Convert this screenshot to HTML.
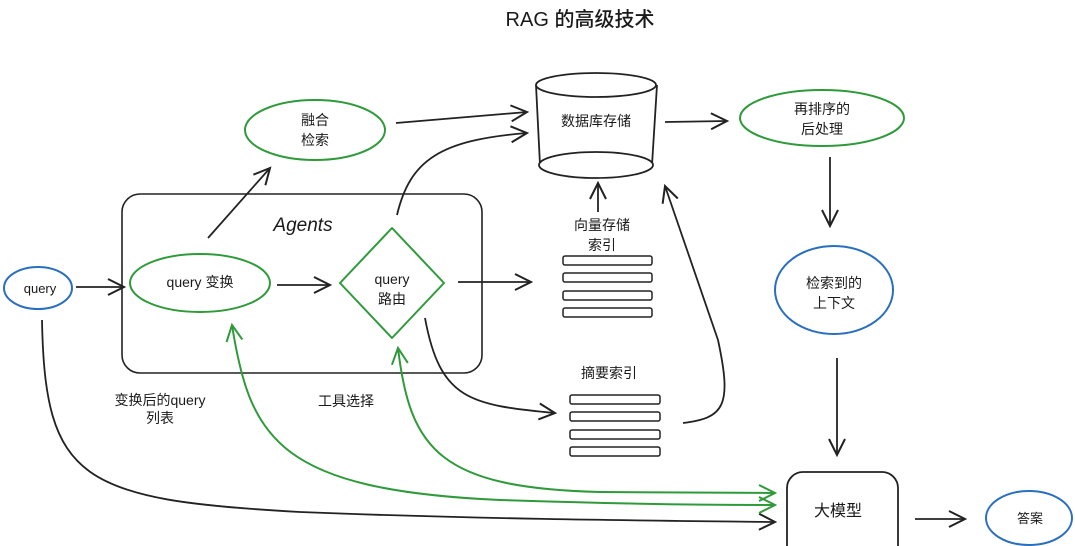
<!DOCTYPE html>
<html><head><meta charset="utf-8">
<style>
html,body{margin:0;padding:0;background:#fff;}
svg{display:block;}
text{font-family:"Liberation Sans","Noto Sans CJK SC",sans-serif;fill:#1a1a1a;}
</style></head>
<body>
<svg width="1075" height="546" viewBox="0 0 1075 546" xmlns="http://www.w3.org/2000/svg">
<defs>
<marker id="a" viewBox="0 0 20 20" refX="18" refY="10" markerWidth="20" markerHeight="20" markerUnits="userSpaceOnUse" orient="auto-start-reverse">
<path d="M2,2 L18,10 L2,18" fill="none" stroke="#222" stroke-width="2"/></marker>
<marker id="g" viewBox="0 0 20 20" refX="18" refY="10" markerWidth="20" markerHeight="20" markerUnits="userSpaceOnUse" orient="auto-start-reverse">
<path d="M2,2 L18,10 L2,18" fill="none" stroke="#2e9a3a" stroke-width="2"/></marker>
</defs>
<text x="580" y="26" font-size="20" text-anchor="middle" font-weight="500">RAG 的高级技术</text>

<rect x="122" y="194" width="360" height="179" rx="18" fill="none" stroke="#222" stroke-width="1.6"/>
<text x="303" y="231" font-size="19" font-style="italic" text-anchor="middle" font-family="Liberation Serif, serif">Agents</text>

<ellipse cx="315" cy="130" rx="70" ry="30" fill="none" stroke="#2e9a3a" stroke-width="2"/>
<text x="315" y="125" font-size="14" text-anchor="middle">融合</text>
<text x="315" y="145" font-size="14" text-anchor="middle">检索</text>

<ellipse cx="38" cy="288" rx="34" ry="21" fill="none" stroke="#2a6fbf" stroke-width="2"/>
<text x="40" y="293" font-size="13" text-anchor="middle">query</text>

<ellipse cx="200" cy="283" rx="70" ry="29" fill="none" stroke="#2e9a3a" stroke-width="2"/>
<text x="200" y="287" font-size="14" text-anchor="middle">query 变换</text>

<path d="M392,228 L444,283 L392,338 L340,283 Z" fill="none" stroke="#2e9a3a" stroke-width="2" stroke-linejoin="round"/>
<text x="392" y="284" font-size="14" text-anchor="middle">query</text>
<text x="392" y="304" font-size="14" text-anchor="middle">路由</text>

<path d="M536,85 L540,165 M657,85 L652,165" stroke="#222" stroke-width="1.8" fill="none"/>
<ellipse cx="596" cy="85" rx="60" ry="12" fill="none" stroke="#222" stroke-width="1.8"/>
<ellipse cx="596" cy="165" rx="57" ry="13" fill="#fff" stroke="#222" stroke-width="1.8"/>
<text x="596" y="126" font-size="14" text-anchor="middle">数据库存储</text>

<ellipse cx="822" cy="118" rx="82" ry="28" fill="none" stroke="#2e9a3a" stroke-width="2"/>
<text x="822" y="114" font-size="14" text-anchor="middle">再排序的</text>
<text x="822" y="134" font-size="14" text-anchor="middle">后处理</text>

<ellipse cx="834" cy="290" rx="59" ry="44" fill="none" stroke="#2a6fbf" stroke-width="2"/>
<text x="834" y="288" font-size="14" text-anchor="middle">检索到的</text>
<text x="834" y="308" font-size="14" text-anchor="middle">上下文</text>

<rect x="787" y="472" width="111" height="90" rx="16" fill="none" stroke="#222" stroke-width="1.8"/>
<text x="838" y="516" font-size="16" text-anchor="middle">大模型</text>

<ellipse cx="1029" cy="518" rx="43" ry="27" fill="none" stroke="#2a6fbf" stroke-width="2"/>
<text x="1030" y="523" font-size="13" text-anchor="middle">答案</text>

<text x="602" y="230" font-size="14" text-anchor="middle">向量存储</text>
<text x="602" y="250" font-size="14" text-anchor="middle">索引</text>
<g fill="none" stroke="#222" stroke-width="1.5">
<rect x="563" y="256" width="89" height="9" rx="2"/>
<rect x="563" y="273" width="89" height="9" rx="2"/>
<rect x="563" y="291" width="89" height="9" rx="2"/>
<rect x="563" y="308" width="89" height="9" rx="2"/>
<rect x="570" y="395" width="90" height="9" rx="2"/>
<rect x="570" y="412" width="90" height="9" rx="2"/>
<rect x="570" y="430" width="90" height="9" rx="2"/>
<rect x="570" y="447" width="90" height="9" rx="2"/>
</g>
<text x="609" y="378" font-size="14" text-anchor="middle">摘要索引</text>

<text x="160" y="405" font-size="14" text-anchor="middle">变换后的query</text>
<text x="160" y="423" font-size="14" text-anchor="middle">列表</text>
<text x="346" y="406" font-size="14" text-anchor="middle">工具选择</text>

<g fill="none" stroke="#222" stroke-width="1.8" marker-end="url(#a)">
<path d="M76,287 L124,287"/>
<path d="M277,285 L330,285"/>
<path d="M458,282 L531,282"/>
<path d="M208,238 L270,168"/>
<path d="M396,123 L527,112"/>
<path d="M397,215 C410,160 440,140 527,133"/>
<path d="M598,212 L598,183"/>
<path d="M683,423 C725,418 732,405 718,340 L665,186"/>
<path d="M425,318 C440,400 470,405 555,413"/>
<path d="M665,122 L727,121"/>
<path d="M830,157 L830,226"/>
<path d="M837,358 L837,455"/>
<path d="M915,519 L965,519"/>
<path d="M42,320 C45,480 80,500 300,512 C500,520 700,521 775,522"/>
</g>

<g fill="none" stroke="#2e9a3a" stroke-width="2">
<path d="M232,325 C250,440 280,490 500,500 C650,505 740,505 775,505" marker-start="url(#g)" marker-end="url(#g)"/>
<path d="M398,348 C410,450 440,488 600,492 C700,493 750,493 775,493" marker-start="url(#g)" marker-end="url(#g)"/>
</g>
</svg>
</body></html>
